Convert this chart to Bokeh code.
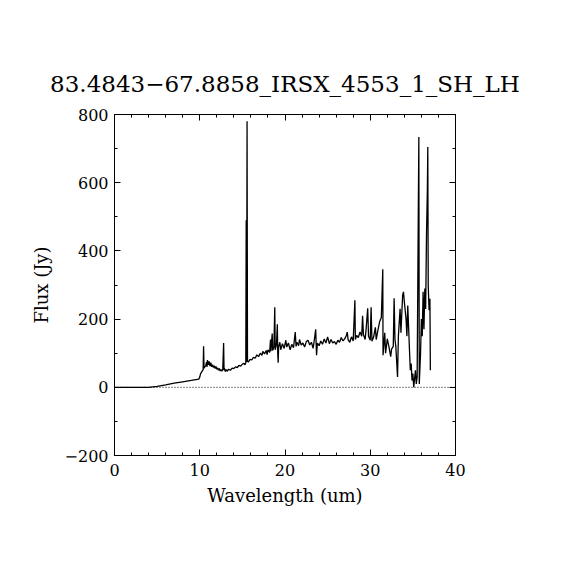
from bokeh.plotting import figure
from bokeh.models import Span, LinearAxis, Range1d, SingleIntervalTicker, CustomJSTickFormatter
from bokeh.embed import file_html
from bokeh.resources import INLINE

# Spectrum (wavelength in um, flux in Jy)
wavelength = [
    0.0, 4.0, 5.0, 6.0, 7.0, 8.0, 9.0, 9.9, 10.0, 10.1,
    10.2, 10.3, 10.4, 10.45, 10.5, 10.6, 10.7, 10.8, 10.85, 10.9,
    11.0, 11.1, 11.2, 11.3, 11.4, 11.5, 11.6, 11.7, 11.8, 11.9,
    12.0, 12.1, 12.2, 12.3, 12.4, 12.5, 12.6, 12.7, 12.8, 12.85,
    12.9, 13.0, 13.1, 13.2, 13.4, 13.6, 13.8, 14.0, 14.2, 14.4,
    14.6, 14.8, 15.0, 15.2, 15.3, 15.4, 15.45, 15.5, 15.55, 15.6,
    15.7, 15.9, 16.1, 16.3, 16.5, 16.7, 16.9, 17.1, 17.3, 17.4,
    17.6, 17.8, 17.9, 18.0, 18.2, 18.3, 18.35, 18.5, 18.55, 18.7,
    18.8, 18.85, 19.0, 19.1, 19.15, 19.2, 19.25, 19.4, 19.5, 19.7,
    19.9, 20.1, 20.2, 20.4, 20.6, 20.8, 21.0, 21.2, 21.3, 21.4,
    21.6, 21.7, 21.9, 22.1, 22.3, 22.5, 22.7, 22.9, 23.1, 23.3,
    23.5, 23.6, 23.7, 23.8, 24.0, 24.2, 24.4, 24.6, 24.8, 25.0,
    25.2, 25.4, 25.6, 25.8, 26.0, 26.2, 26.4, 26.6, 26.8, 27.0,
    27.2, 27.3, 27.4, 27.6, 27.8, 28.0, 28.2, 28.25, 28.4, 28.6,
    28.8, 29.0, 29.1, 29.2, 29.4, 29.5, 29.7, 29.8, 30.0, 30.1,
    30.2, 30.4, 30.6, 30.7, 30.9, 31.1, 31.3, 31.47, 31.5, 31.7,
    31.8, 32.0, 32.2, 32.4, 32.5, 32.7, 32.8, 32.9, 33.0, 33.2,
    33.3, 33.5, 33.6, 33.8, 33.9, 34.0, 34.2, 34.3, 34.4, 34.6,
    34.7, 34.8, 34.9, 35.0, 35.1, 35.2, 35.3, 35.4, 35.5, 35.7,
    35.75, 35.9, 36.0, 36.1, 36.2, 36.3, 36.4, 36.5, 36.6, 36.7,
    36.75, 36.8, 36.9, 37.0, 37.05,
]
flux = [
    0, 0, 3, 7, 12, 16, 20, 24, 30, 40,
    44, 48, 52, 120, 56, 60, 64, 74, 60, 80,
    66, 76, 62, 72, 60, 66, 58, 63, 55, 61,
    53, 57, 50, 55, 48, 52, 47, 53, 130, 50,
    55, 46, 52, 47, 53, 50, 56, 55, 60, 58,
    64, 62, 68, 70, 66, 72, 490, 74, 780, 77,
    74, 82, 80, 88, 85, 95, 90, 100, 94, 105,
    98, 108, 96, 110, 102, 140, 106, 158, 108, 118,
    235, 110, 125, 185, 100, 72, 118, 132, 110, 128,
    114, 138, 118, 130, 110, 126, 116, 162, 120, 132,
    122, 140, 124, 130, 118, 134, 138, 124, 132, 114,
    150, 170, 94, 130, 122, 136, 126, 142, 130, 148,
    128, 140, 130, 134, 126, 138, 132, 146, 136, 142,
    152, 162, 140, 132, 148, 136, 255, 140, 152, 146,
    162, 150, 210, 155, 140, 166, 232, 150, 138, 235,
    135, 148, 176, 140, 168, 192, 205, 346, 94, 160,
    100, 142, 118, 90, 112, 120, 261, 140, 120, 30,
    150, 230, 160, 270, 280, 250, 200, 150, 240, 110,
    50, 70, 20, 40, 0, 25, 50, 10, 30, 734,
    10, 100, 200, 150, 280, 170, 290, 230, 450, 578,
    705, 300, 226, 260, 50,
]

title_text = "83.4843\u221267.8858_IRSX_4553_1_SH_LH"
x_label = "Wavelength (um)"
y_label = "Flux (Jy)"
x_limits = (0, 40)
y_limits = (-200, 800)

FONT = "DejaVu Serif"

p = figure(
    width=554, height=554,
    frame_width=341, frame_height=341,
    min_border_left=114, min_border_right=99,
    min_border_top=114, min_border_bottom=99,
    x_range=Range1d(*x_limits), y_range=Range1d(*y_limits),
    output_backend="svg", toolbar_location=None,
    title=title_text,
)
p.title.text_font = FONT
p.title.text_font_size = "23px"
p.title.text_font_style = "normal"
p.title.text_color = "black"
p.title.align = "center"
p.title.standoff = 35
p.grid.visible = False
p.outline_line_color = "black"
p.background_fill_color = "white"
p.border_fill_color = "white"


def style_axis(ax, labels=True):
    ax.axis_line_color = "black"
    ax.major_tick_line_color = "black"
    ax.minor_tick_line_color = "black"
    ax.major_tick_in = 6
    ax.major_tick_out = 0
    ax.minor_tick_in = 3
    ax.minor_tick_out = 0
    ax.major_label_text_font = FONT
    ax.major_label_text_font_size = "16px"
    ax.major_label_text_color = "black"
    ax.axis_label_text_font = FONT
    ax.axis_label_text_font_size = "18px"
    ax.axis_label_text_font_style = "normal"
    ax.axis_label_text_color = "black"
    if not labels:
        ax.formatter = CustomJSTickFormatter(code="return '';")
        ax.major_label_standoff = 0


p.xaxis.ticker = SingleIntervalTicker(interval=10, num_minor_ticks=5)
p.yaxis.ticker = SingleIntervalTicker(interval=200, num_minor_ticks=2)
for ax in p.xaxis:
    style_axis(ax)
    ax.axis_label = x_label
    ax.major_label_standoff = 8
    ax.axis_label_standoff = 6
for ax in p.yaxis:
    style_axis(ax)
    ax.axis_label = y_label
    ax.major_label_standoff = 6
    ax.axis_label_standoff = 10
    ax.major_label_overrides = {-200: "\u2212200"}

top = LinearAxis(ticker=SingleIntervalTicker(interval=10, num_minor_ticks=5))
style_axis(top, labels=False)
p.add_layout(top, "above")
right = LinearAxis(ticker=SingleIntervalTicker(interval=200, num_minor_ticks=2))
style_axis(right, labels=False)
p.add_layout(right, "right")

p.add_layout(Span(location=0, dimension="width", line_color="black",
                  line_width=1, line_dash="1 2"))

p.line(wavelength, flux, line_color="black", line_width=1.3)

open("out.html", "w").write(file_html(p, INLINE))
